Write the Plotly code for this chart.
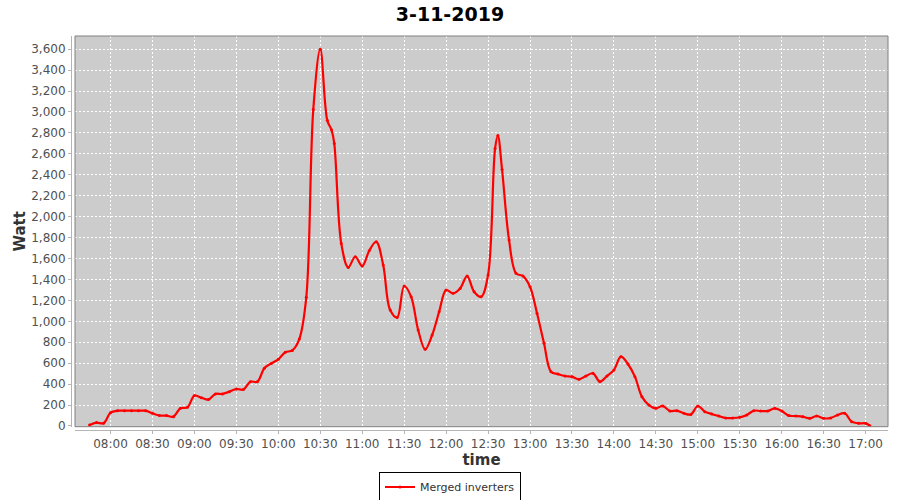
import plotly.graph_objects as go

DATE = "2019-11-03"
times = ["07:45", "07:50", "07:55", "08:00", "08:05", "08:10", "08:15", "08:20", "08:25", "08:30",
         "08:35", "08:40", "08:45", "08:50", "08:55", "09:00", "09:05", "09:10", "09:15", "09:20",
         "09:25", "09:30", "09:35", "09:40", "09:45", "09:50", "09:55", "10:00", "10:05", "10:10",
         "10:15", "10:20", "10:25", "10:30", "10:35", "10:38", "10:40", "10:45", "10:50", "10:55",
         "11:00", "11:05", "11:10", "11:15", "11:20", "11:25", "11:30", "11:35", "11:40", "11:45",
         "11:50", "11:55", "12:00", "12:05", "12:10", "12:15", "12:20", "12:25", "12:30", "12:35",
         "12:37", "12:40", "12:45", "12:50", "12:55", "13:00", "13:05", "13:10", "13:15", "13:20",
         "13:25", "13:30", "13:35", "13:40", "13:45", "13:50", "13:55", "14:00", "14:05", "14:10",
         "14:15", "14:20", "14:25", "14:30", "14:35", "14:40", "14:45", "14:50", "14:55", "15:00",
         "15:05", "15:10", "15:15", "15:20", "15:25", "15:30", "15:35", "15:40", "15:45", "15:50",
         "15:55", "16:00", "16:05", "16:10", "16:15", "16:20", "16:25", "16:30", "16:35", "16:40",
         "16:45", "16:50", "16:55", "17:00", "17:03"]
watt = [10, 32, 26, 127, 146, 146, 146, 146, 146, 121,
        100, 99, 89, 169, 178, 290, 270, 252, 306, 306,
        328, 353, 348, 423, 423, 551, 598, 637, 704, 722,
        830, 1230, 3023, 3600, 2920, 2830, 2700, 1744, 1515, 1617,
        1528, 1674, 1760, 1537, 1107, 1037, 1337, 1234, 917, 732,
        869, 1091, 1298, 1267, 1314, 1432, 1282, 1234, 1442, 2650,
        2775, 2450, 1776, 1458, 1432, 1330, 1076, 790, 519, 496,
        477, 471, 446, 477, 503, 423, 477, 535, 662, 592,
        471, 280, 200, 169, 191, 143, 146, 121, 110, 191,
        137, 115, 95, 76, 76, 83, 105, 146, 143, 143,
        169, 143, 99, 95, 89, 73, 95, 73, 76, 105,
        121, 41, 25, 25, 3]

tick_labels = ["08:00", "08:30", "09:00", "09:30", "10:00", "10:30", "11:00", "11:30", "12:00",
               "12:30", "13:00", "13:30", "14:00", "14:30", "15:00", "15:30", "16:00", "16:30", "17:00"]
x_range = ["07:34:36", "17:16:00"]
y_range = [-7, 3726]

title_text = "3-11-2019"
series_name = "Merged inverters"

x = [f"{DATE} {t}" for t in times]

fig = go.Figure()
fig.add_trace(go.Scatter(
    x=x, y=watt, name=series_name, mode="lines+markers",
    line=dict(color="#ff0000", width=2.2, shape="spline", smoothing=1.0),
    marker=dict(color="#ff0000", size=3),
    showlegend=True,
))

L, R, T, B = 71, 12, 36, 70
pw = 900 - L - R
ph = 500 - T - B
dx0 = 4 / pw
dy0 = 3.3 / ph

axis_font = dict(family="DejaVu Sans", size=12, color="#505050")

fig.update_layout(
    width=900, height=500,
    margin=dict(l=L, r=R, t=T, b=B, autoexpand=False),
    paper_bgcolor="white",
    plot_bgcolor="#cccccc",
    title=dict(text=f"<b>{title_text}</b>", x=0.5, xref="container", xanchor="center",
               y=1 - 14 / 500, yref="container", yanchor="middle",
               font=dict(family="DejaVu Sans", size=19, color="black")),
    xaxis=dict(
        domain=[dx0, 1], anchor="free", position=0,
        type="date",
        range=[f"{DATE} {x_range[0]}", f"{DATE} {x_range[1]}"],
        tickvals=[f"{DATE} {t}" for t in tick_labels], ticktext=tick_labels,
        showgrid=True, gridcolor="white", griddash="2px,2px", gridwidth=1,
        showline=True, linecolor="#b4b4b4", linewidth=1,
        ticks="outside", ticklen=3, tickcolor="#b4b4b4",
        tickfont=axis_font,
        zeroline=False,
        title=dict(text="<b>time</b>", font=dict(family="DejaVu Sans", size=15, color="#333333"), standoff=4),
        automargin=False,
    ),
    yaxis=dict(
        domain=[dy0, 1], anchor="free", position=0,
        range=y_range,
        tickmode="linear", tick0=0, dtick=200, tickformat=",d",
        showgrid=True, gridcolor="white", griddash="2px,2px", gridwidth=1,
        showline=True, linecolor="#b4b4b4", linewidth=1,
        ticks="outside", ticklen=3, tickcolor="#b4b4b4",
        tickfont=axis_font,
        zeroline=False,
        title=dict(text="<b>Watt</b>", font=dict(family="DejaVu Sans", size=15, color="#333333"), standoff=0),
        automargin=False,
    ),
    legend=dict(
        orientation="h", x=0.5, xref="container", xanchor="center",
        y=1 - 487 / 500, yref="container", yanchor="middle",
        bgcolor="white", bordercolor="black", borderwidth=1,
        font=dict(family="DejaVu Sans", size=11, color="#333333"),
        itemwidth=30,
    ),
    shapes=[dict(type="rect", xref="paper", yref="paper", x0=dx0, x1=1, y0=dy0, y1=1,
                 line=dict(color="#808080", width=1), fillcolor="rgba(0,0,0,0)", layer="above")],
)

fig.write_html("out.html", config={"displayModeBar": False},
               post_script="document.body.style.margin='0';document.body.style.overflow='hidden';")
